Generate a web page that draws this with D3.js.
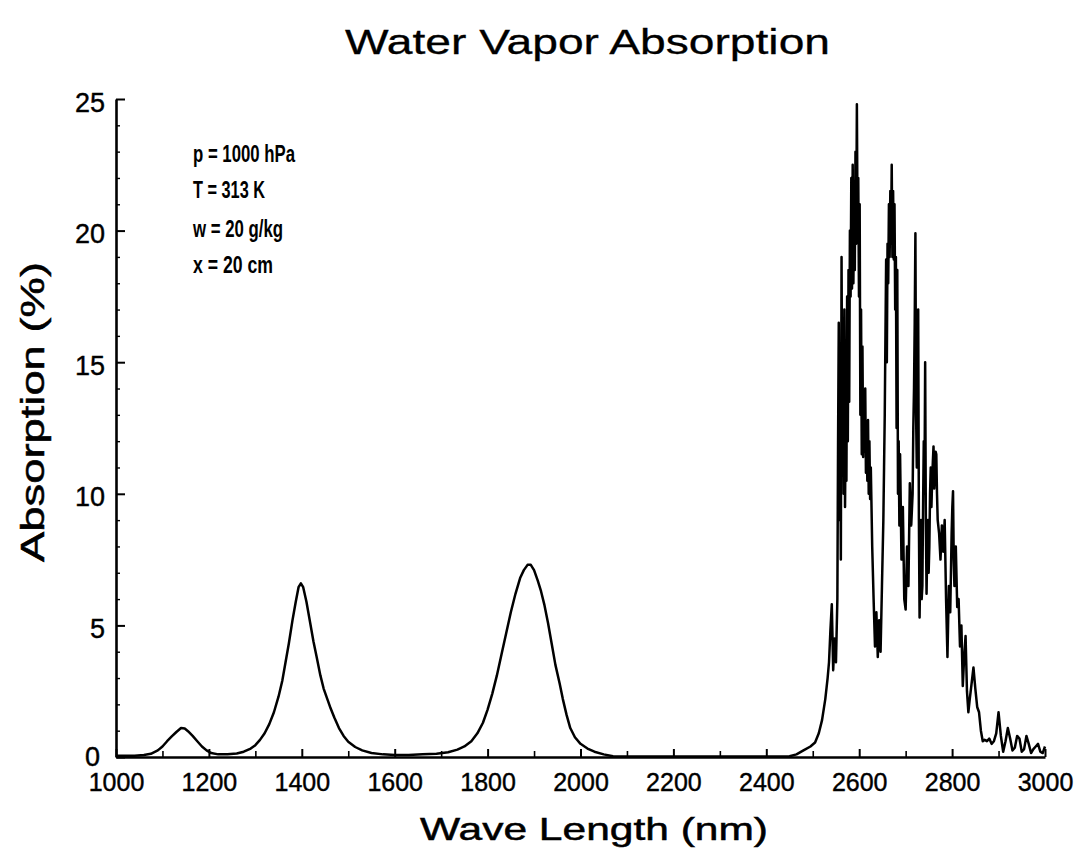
<!DOCTYPE html>
<html><head><meta charset="utf-8">
<script src="https://cdn.jsdelivr.net/npm/d3@7"></script>
<style>
body{margin:0;background:#fff}
svg{display:block}
text{font-family:"Liberation Sans",Arial,Helvetica,sans-serif;fill:#000}
</style>
</head><body>
<svg id="c" width="1082" height="856"></svg>
<script>
// ---- data ----
const waveLength = [
 1000,1020,1040,1060,1075,1090,1100,1110,1120,1130,1140,1148,1155,1165,1175,1185,1195,1205,1220,1240,
 1260,1275,1290,1300,1310,1320,1330,1340,1350,1358,1365,1372,1380,1387,1393,1398,1403,1410,1418,1425,
 1432,1440,1447,1455,1462,1470,1480,1490,1500,1515,1530,1550,1575,1600,1630,1660,1690,1715,1735,1750,
 1765,1778,1790,1800,1810,1820,1830,1840,1850,1860,1870,1878,1886,1893,1900,1908,1915,1922,1930,1938,
 1946,1955,1962,1970,1978,1988,2000,2015,2030,2050,2070,2100,2200,2300,2400,2450,2465,2480,2495,2505,
 2513,2520,2527,2532,
 2535,2538,2541,2544,2547,2550,
 2553,2554.5,2556,2557.5,2559,2560.5,2562,2563.5,2565,2566.5,2568,2569.5,2571,2572.5,2574,2575.5,2577,2578.5,
 2580,2581.5,2583,2584.5,2586,2587.5,2589,2590.5,2592,2593.5,2595,2596.5,2598,2599.5,2601,2602.5,2604,2605.5,
 2607,2608.5,2610,2611.5,2613,2614.5,2616,2617.5,2619,2620.5,2622,2623.5,2625,
 2628,2631,2634,2637,2640,2643,2646,2649,
 2652,2653.5,2655,2656.5,2658,2659.5,2661,2662.5,2664,2665.5,2667,2668.5,2670,2671.5,2673,2674.5,2676,2677.5,
 2679,2680.5,2682,2683.5,2685,2686.5,2688,
 2691,2694,2697,2700,2703,2706,2709,2712,
 2715,2716.5,2718,2719.5,2721,2722.5,2724,2725.5,2727,2728.5,2730,2731.5,2733,2734.5,2736,2737.5,2739,2740.5,
 2742,2743.5,2745,2746.5,2748,2749.5,2751,2752.5,2754,2755.5,2757,2758.5,2760,2761.5,2763,2764.5,2766,2767.5,
 2769,2772,2775,2778,2781,2784,2787,2790,2793,2796,2799,2800.5,2802,2803.5,2805,2808,2811,2814,2817,2820,
 2823,2826,2829,2832,2835,2838,2842,2846,2850,2854,2858,2862,2866,2870,2875,2880,2885,2890,2895,2900,
 2905,2910,2915,2920,2925,2930,2935,2940,2945,2950,2955,2960,2965,2970,2975,2980,2985,2990,2995,3000
];
const absorption = [
 0.05,0.05,0.05,0.08,0.12,0.25,0.4,0.6,0.78,0.95,1.1,1.08,0.98,0.8,0.6,0.4,0.25,0.15,0.1,0.1,
 0.13,0.2,0.32,0.45,0.65,0.9,1.25,1.7,2.3,2.9,3.6,4.3,5.2,5.9,6.45,6.6,6.45,5.9,5.1,4.4,
 3.8,3.1,2.6,2.2,1.85,1.5,1.1,0.8,0.58,0.38,0.25,0.15,0.1,0.08,0.08,0.1,0.12,0.18,0.28,0.4,
 0.6,0.9,1.3,1.8,2.4,3.1,3.9,4.7,5.5,6.2,6.8,7.1,7.3,7.3,7.1,6.7,6.3,5.8,5.1,4.3,
 3.5,2.8,2.2,1.6,1.1,0.75,0.5,0.32,0.2,0.1,0.03,0.02,0.02,0.02,0.02,0.03,0.1,0.25,0.4,0.55,
 0.9,1.4,2.2,3.0,
 3.6,4.8,5.8,3.3,4.5,3.6,
 6.0,12.0,16.5,9.0,14.0,7.5,19.0,12.5,16.0,10.0,17.0,9.5,13.0,10.5,17.5,12.0,18.5,13.5,
 20.0,17.5,22.0,17.8,22.5,18.0,21.5,18.5,23.0,19.5,24.8,20.0,22.0,17.5,21.0,13.0,17.0,11.5,
 15.6,11.4,13.5,11.6,14.0,10.8,12.5,10.5,12.8,10.0,12.0,9.8,11.0,
 8.0,6.0,4.2,5.5,3.8,5.2,4.0,6.5,
 9.0,11.0,13.0,16.0,18.9,15.0,19.5,18.0,21.0,19.0,21.5,19.5,22.5,19.0,21.5,18.9,21.0,17.0,
 19.0,12.5,18.5,10.0,12.0,8.8,11.5,
 7.5,9.5,6.0,5.6,8.0,6.5,10.4,8.8,
 10.0,12.5,14.0,16.5,19.9,13.0,11.0,15.5,17.0,9.0,5.3,7.5,9.0,6.0,6.5,9.5,12.0,10.0,
 15.0,9.0,6.2,8.0,9.0,7.0,8.0,10.0,11.0,9.5,10.5,11.2,11.8,10.2,10.8,11.6,11.5,10.0,
 9.0,8.5,7.5,8.8,7.8,9.0,6.0,3.8,6.5,5.5,8.5,9.5,10.1,7.5,6.5,8.0,5.7,6.0,4.2,5.0,
 2.7,3.8,4.6,2.5,1.7,2.2,2.8,3.4,2.6,1.9,1.7,1.0,0.6,0.65,0.6,0.7,0.5,0.6,0.9,1.7,
 0.8,0.2,0.6,1.1,0.7,0.25,0.35,0.8,0.7,0.2,0.3,0.8,0.5,0.15,0.3,0.4,0.5,0.2,0.15,0.4
];
const xTicks = [1000,1200,1400,1600,1800,2000,2200,2400,2600,2800,3000];
const xMinorTicks = [1100,1300,1500,1700,1900,2100,2300,2500,2700,2900];
const yTicks = [0,5,10,15,20,25];
const yMinorTicks = [1,2,3,4,6,7,8,9,11,12,13,14,16,17,18,19,21,22,23,24];
const params = ["p = 1000 hPa","T = 313 K","w = 20 g/kg","x = 20 cm"];
const paramWidths = [102,72,90,80];
const titleText = "Water Vapor Absorption";
const xLabelText = "Wave Length (nm)";
const yLabelText = "Absorption (%)";

// ---- drawing ----
const svg = d3.select("#c");
const x = d3.scaleLinear().domain([1000,3000]).range([116,1045]);
const y = d3.scaleLinear().domain([0,25]).range([757,99]);

// x axis
const gx = svg.append("g").attr("transform","translate(0,757)");
gx.call(d3.axisBottom(x).tickValues(xTicks).tickFormat(d3.format("d"))
  .tickSizeInner(-8).tickSizeOuter(0).tickPadding(0));
gx.select(".domain").attr("stroke","#000").attr("stroke-width",2.6);
gx.selectAll(".tick line").attr("stroke","#000").attr("stroke-width",2);
gx.selectAll(".tick text").attr("font-size",25).attr("y",34).attr("dy",0)
  .attr("stroke","#000").attr("stroke-width",0.4);
const gxm = svg.append("g").attr("transform","translate(0,757)");
gxm.call(d3.axisBottom(x).tickValues(xMinorTicks).tickSizeInner(-6).tickSizeOuter(0).tickFormat(""));
gxm.select(".domain").remove();
gxm.selectAll(".tick line").attr("stroke","#000").attr("stroke-width",1.6);

// y axis
const gy = svg.append("g").attr("transform","translate(116,0)");
gy.call(d3.axisLeft(y).tickValues(yTicks).tickSizeInner(-9).tickSizeOuter(0).tickPadding(0));
gy.select(".domain").attr("stroke","#000").attr("stroke-width",2.6);
gy.selectAll(".tick line").attr("stroke","#000").attr("stroke-width",2);
gy.selectAll(".tick text").attr("font-size",27).attr("x",-11).attr("dy","0.45em")
  .attr("stroke","#000").attr("stroke-width",0.4);
gy.selectAll(".tick").filter(d=>d===0).select("text").attr("x",-16).attr("dy","0.3em");
const gym = svg.append("g").attr("transform","translate(116,0)");
gym.call(d3.axisLeft(y).tickValues(yMinorTicks).tickSizeInner(-4).tickSizeOuter(0).tickFormat(""));
gym.select(".domain").remove();
gym.selectAll(".tick line").attr("stroke","#000").attr("stroke-width",1.4);

// curve
const line = d3.line().x((d,i)=>x(waveLength[i])).y(d=>y(d));
svg.append("path").datum(absorption)
  .attr("d",line).attr("fill","none").attr("stroke","#000")
  .attr("stroke-width",2.5).attr("stroke-linejoin","round");

// title and labels
svg.append("text").attr("x",345).attr("y",54).attr("font-size",35)
  .attr("stroke","#000").attr("stroke-width",0.3)
  .attr("textLength",485).attr("lengthAdjust","spacingAndGlyphs").text(titleText);
svg.append("text").attr("x",420).attr("y",840).attr("font-size",32)
  .attr("stroke","#000").attr("stroke-width",0.5)
  .attr("textLength",348).attr("lengthAdjust","spacingAndGlyphs").text(xLabelText);
svg.append("text").attr("transform","translate(44,562) rotate(-90)").attr("font-size",33)
  .attr("stroke","#000").attr("stroke-width",0.5)
  .attr("textLength",300).attr("lengthAdjust","spacingAndGlyphs").text(yLabelText);

// parameters
svg.append("g").selectAll("text").data(params).join("text")
  .attr("x",193).attr("y",(d,i)=>[162,198,237,273][i])
  .attr("font-size",24).attr("font-weight","bold")
  .attr("textLength",(d,i)=>paramWidths[i]).attr("lengthAdjust","spacingAndGlyphs")
  .text(d=>d);
</script>
</body></html>
